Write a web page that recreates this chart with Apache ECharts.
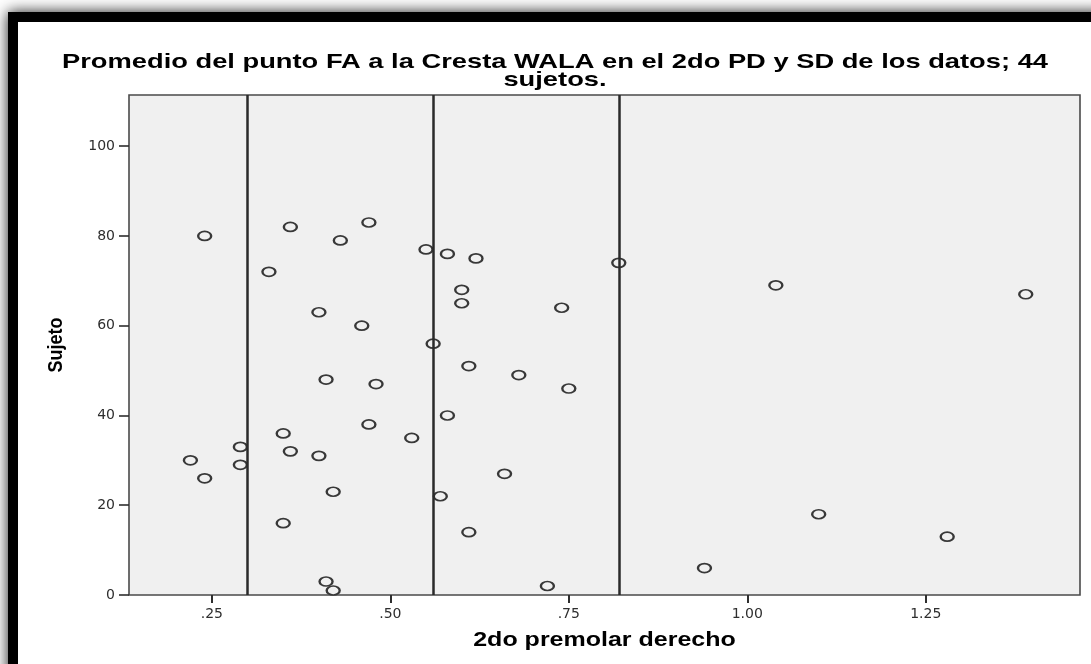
<!DOCTYPE html>
<html>
<head>
<meta charset="utf-8">
<script src="https://cdn.jsdelivr.net/npm/echarts@6/dist/echarts.min.js"></script>
<style>
  html, body { margin: 0; padding: 0; background: #ffffff; }
  #chart { width: 1091px; height: 664px; }
</style>
</head>
<body>
<div id="chart"></div>
<script>
// Title and axis names
const titleLines = ['Promedio del punto FA a la Cresta WALA en el 2do PD y SD de los datos; 44', 'sujetos.'];
const xAxisName = '2do premolar derecho';
const yAxisName = 'Sujeto';

// Mean distance at the 2nd right premolar, and the subject number of each point
const premolarValues = [0.24, 0.36, 0.33, 0.43, 0.47, 0.40, 0.46, 0.55, 0.58, 0.56,
                        0.62, 0.60, 0.60, 0.82, 0.74, 1.04, 1.39, 1.10, 1.28, 0.22,
                        0.24, 0.29, 0.29, 0.35, 0.36, 0.40, 0.41, 0.48, 0.47, 0.53,
                        0.58, 0.57, 0.42, 0.35, 0.41, 0.42, 0.61, 0.68, 0.75, 0.66,
                        0.61, 0.72, 0.94];
const subjectIds = [80, 82, 72, 79, 83, 63, 60, 77, 76, 56,
                    75, 68, 65, 74, 64, 69, 67, 18, 13, 30,
                    26, 33, 29, 36, 32, 31, 48, 47, 38, 35,
                    40, 22, 23, 16, 3, 1, 51, 49, 46, 27,
                    14, 2, 6];

// Reference lines: mean - SD, mean, mean + SD
const referenceLines = [0.30, 0.56, 0.82];

// Tick positions and labels
const xTicks = [0.25, 0.5, 0.75, 1.0, 1.25];
const xTickLabels = ['.25', '.50', '.75', '1.00', '1.25'];
const yTicks = [0, 20, 40, 60, 80, 100];

const points = premolarValues.map((v, i) => [v, subjectIds[i]]);

const chart = echarts.init(document.getElementById('chart'), null, { renderer: 'canvas' });

const option = {
  backgroundColor: '#ffffff',
  animation: false,
  grid: {
    left: 129, top: 95, right: 11, bottom: 69,
    show: true,
    backgroundColor: '#f0f0f0',
    borderColor: '#4a4a4a',
    borderWidth: 1.6
  },
  xAxis: {
    type: 'value',
    min: 0.134, max: 1.466,
    axisLine: { show: false },
    splitLine: { show: false },
    axisTick: {
      show: true, customValues: xTicks, length: 8,
      lineStyle: { color: '#2e2e2e', width: 2 }
    },
    axisLabel: {
      customValues: xTicks,
      margin: 12,
      color: '#2e2e2e',
      fontFamily: 'DejaVu Sans',
      fontSize: 14,
      formatter: function (v) {
        const k = xTicks.findIndex(t => Math.abs(t - v) < 1e-9);
        return k >= 0 ? xTickLabels[k] : '';
      }
    }
  },
  yAxis: {
    type: 'value',
    min: 0, max: 111.4,
    axisLine: { show: false },
    splitLine: { show: false },
    axisTick: {
      show: true, customValues: yTicks, length: 10,
      lineStyle: { color: '#2e2e2e', width: 1.6 }
    },
    axisLabel: {
      customValues: yTicks,
      margin: 14,
      color: '#2e2e2e',
      fontFamily: 'DejaVu Sans',
      fontSize: 14
    }
  },
  series: [{
    type: 'scatter',
    data: points,
    symbol: 'circle',
    symbolSize: [13, 9],
    itemStyle: { color: '#f0f0f0', borderColor: '#383838', borderWidth: 2, opacity: 1 },
    z: 3,
    markLine: {
      silent: true,
      symbol: ['none', 'none'],
      label: { show: false },
      lineStyle: { color: '#2a2a2a', width: 2.5, type: 'solid' },
      data: referenceLines.map(v => ({ xAxis: v }))
    }
  }],
  graphic: [
    // dark frame with a soft outer shadow
    {
      type: 'rect', z: -20, silent: true,
      shape: { x: 8, y: 12, width: 1300, height: 900 },
      style: { fill: '#000000', shadowBlur: 14, shadowColor: 'rgba(0,0,0,0.9)' }
    },
    {
      type: 'rect', z: -19, silent: true,
      shape: { x: 18, y: 22, width: 1300, height: 900 },
      style: { fill: '#ffffff' }
    },
    {
      type: 'text', z: 10, silent: true,
      x: 555, y: 62, scaleX: 1.3,
      style: {
        text: titleLines[0], fill: '#000000',
        font: 'bold 21px "Liberation Sans", Arial, sans-serif',
        textAlign: 'center', textVerticalAlign: 'middle'
      }
    },
    {
      type: 'text', z: 10, silent: true,
      x: 555, y: 80, scaleX: 1.3,
      style: {
        text: titleLines[1], fill: '#000000',
        font: 'bold 21px "Liberation Sans", Arial, sans-serif',
        textAlign: 'center', textVerticalAlign: 'middle'
      }
    },
    {
      type: 'text', z: 10, silent: true,
      x: 604.5, y: 640, scaleX: 1.25,
      style: {
        text: xAxisName, fill: '#000000',
        font: 'bold 20px "Liberation Sans", Arial, sans-serif',
        textAlign: 'center', textVerticalAlign: 'middle'
      }
    },
    {
      type: 'text', z: 10, silent: true,
      x: 56, y: 345, rotation: Math.PI / 2, scaleY: 1.15,
      style: {
        text: yAxisName, fill: '#000000',
        font: 'bold 18px "Liberation Sans", Arial, sans-serif',
        textAlign: 'center', textVerticalAlign: 'middle'
      }
    }
  ]
};

chart.setOption(option);
</script>
</body>
</html>
